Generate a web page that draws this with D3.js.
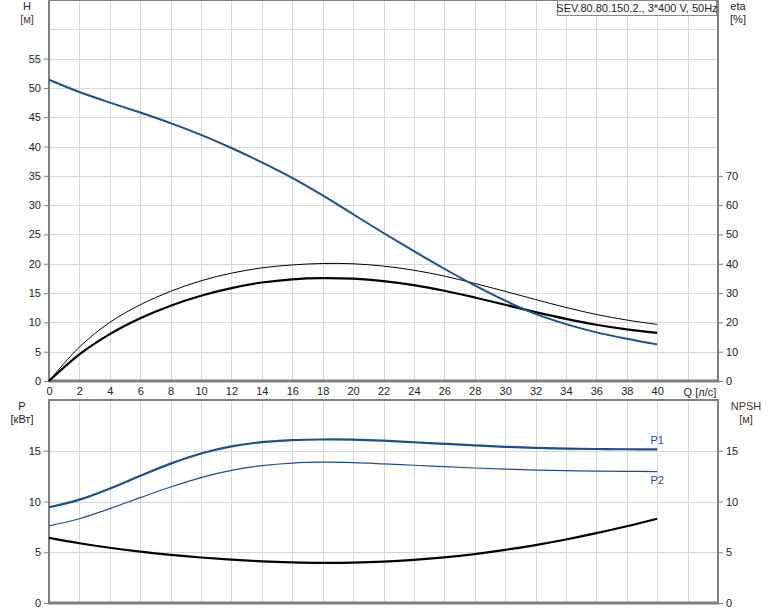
<!DOCTYPE html>
<html><head><meta charset="utf-8">
<script src="https://cdn.jsdelivr.net/npm/d3@7"></script>
<style>body{margin:0;background:#fff}svg{display:block;font-family:"Liberation Sans",Arial,sans-serif}</style>
</head><body><svg id="c" width="774" height="611"></svg>
<script>
const q = [0,2,4,6,8,10,12,14,16,18,20,22,24,26,28,30,32,34,36,38,40];
const head = [51.4,49.3,47.5,45.8,44.0,42.0,39.75,37.3,34.65,31.65,28.45,25.25,22.15,19.15,16.3,13.7,11.45,9.7,8.3,7.2,6.25];
const etaThin = [0,11.6,20.0,26.0,30.6,34.2,36.8,38.6,39.6,40.1,40.0,39.2,37.8,35.8,33.3,30.6,27.8,25.1,22.7,20.8,19.3];
const etaThick = [0,9.1,16.0,21.4,25.7,29.1,31.7,33.6,34.7,35.1,34.9,34.1,32.7,30.8,28.5,26.0,23.5,21.2,19.2,17.6,16.4];
const p1 = [9.43,10.18,11.28,12.53,13.73,14.73,15.43,15.85,16.05,16.11,16.09,15.99,15.84,15.68,15.53,15.39,15.28,15.21,15.17,15.15,15.13];
const p2 = [7.6,8.3,9.3,10.38,11.43,12.36,13.06,13.53,13.79,13.87,13.83,13.71,13.57,13.43,13.30,13.19,13.10,13.04,13.0,12.97,12.95];
const npsh = [6.41,5.89,5.44,5.06,4.74,4.48,4.27,4.11,4.01,3.96,3.98,4.07,4.24,4.49,4.82,5.23,5.71,6.26,6.88,7.56,8.30];
const qTicks = [0,2,4,6,8,10,12,14,16,18,20,22,24,26,28,30,32,34,36,38,40];
const hTicks = [0,5,10,15,20,25,30,35,40,45,50,55];
const etaTicks = [0,10,20,30,40,50,60,70];
const pTicks = [0,5,10,15];
const npshTicks = [0,5,10,15];
const title = "SEV.80.80.150.2., 3*400 V, 50Hz";

const svg = d3.select("#c");
const x = d3.scaleLinear().domain([0,44]).range([49,718]);
const yH = d3.scaleLinear().domain([0,65]).range([381,0]);
const yE = d3.scaleLinear().domain([0,130]).range([381,0]);
const yP = d3.scaleLinear().domain([0,20]).range([603,400]);
const grid = "#d6d6d6", axisC = "#7f7f7f", blue = "#1d4f8c", txt = "#222";

const gridX = d3.range(2,44,2);
function vgrid(y0,y1){
  svg.append("g").selectAll("line").data(gridX).join("line")
    .attr("x1",d=>Math.round(x(d))+0.5).attr("x2",d=>Math.round(x(d))+0.5).attr("y1",y0).attr("y2",y1)
    .attr("stroke",grid).attr("stroke-width",1);
}
vgrid(0,381); vgrid(400,603);
svg.append("g").selectAll("line").data(d3.range(5,66,5)).join("line")
  .attr("x1",49).attr("x2",718).attr("y1",d=>Math.round(yH(d))+0.5).attr("y2",d=>Math.round(yH(d))+0.5)
  .attr("stroke",grid);
svg.append("g").selectAll("line").data([5,10,15]).join("line")
  .attr("x1",49).attr("x2",718).attr("y1",d=>Math.round(yP(d))+0.5).attr("y2",d=>Math.round(yP(d))+0.5)
  .attr("stroke",grid);

function frame(y0,y1){
  svg.append("rect").attr("x",49).attr("y",y0).attr("width",669).attr("height",y1-y0)
    .attr("fill","none").attr("stroke",axisC).attr("stroke-width",1);
  svg.append("line").attr("x1",49).attr("x2",49).attr("y1",y0).attr("y2",y1).attr("stroke",axisC).attr("stroke-width",2);
  svg.append("line").attr("x1",718).attr("x2",718).attr("y1",y0).attr("y2",y1).attr("stroke",axisC).attr("stroke-width",2);
  svg.append("line").attr("x1",48).attr("x2",719).attr("y1",y1).attr("y2",y1).attr("stroke",axisC).attr("stroke-width",3);
}
frame(0.5,381); frame(400,603);
svg.append("line").attr("x1",48).attr("x2",719).attr("y1",400).attr("y2",400).attr("stroke",axisC).attr("stroke-width",2);

function leftAxis(scale,ticks){
  const g = svg.append("g").attr("transform","translate(49,0)")
    .call(d3.axisLeft(scale).tickValues(ticks).tickSize(5).tickPadding(3).tickFormat(d3.format("d")));
  g.select(".domain").remove();
  g.selectAll("line").attr("stroke",axisC);
  g.selectAll("text").attr("font-size",11).attr("fill",txt).attr("font-family","Liberation Sans, Arial");
}
function rightAxis(scale,ticks){
  const g = svg.append("g").attr("transform","translate(718,0)")
    .call(d3.axisRight(scale).tickValues(ticks).tickSize(5).tickPadding(3).tickFormat(d3.format("d")));
  g.select(".domain").remove();
  g.selectAll("line").attr("stroke",axisC);
  g.selectAll("text").attr("font-size",11).attr("fill",txt).attr("font-family","Liberation Sans, Arial");
}
leftAxis(yH,hTicks); rightAxis(yE,etaTicks);
leftAxis(yP,pTicks); rightAxis(yP,npshTicks);
const gx = svg.append("g").attr("transform","translate(0,381)")
  .call(d3.axisBottom(x).tickValues(qTicks).tickSize(0).tickPadding(6).tickFormat(d3.format("d")));
gx.select(".domain").remove();
gx.selectAll("text").attr("font-size",11).attr("fill",txt).attr("font-family","Liberation Sans, Arial");

function lab(t,xx,yy,anchor,col){
  svg.append("text").attr("x",xx).attr("y",yy).attr("text-anchor",anchor||"middle")
    .attr("font-size",11).attr("fill",col||txt).text(t);
}
lab("H",27,10,"middle","#2a2a55"); lab("[м]",27,23,"middle","#553355");
lab("eta",738,10); lab("[%]",738,23);
lab("P",22,410); lab("[кВт]",22,423);
lab("NPSH",746,410,"middle","#4a3030"); lab("[м]",746,423,"middle","#4a3030");
lab("Q [л/с]",x(42)-4,396,"start");

const tw = 159;
svg.append("rect").attr("x",557.5).attr("y",0.5).attr("width",tw).attr("height",15)
  .attr("fill","#fff").attr("stroke","#888");
lab(title,557.5+tw/2,12);

const line = (ys,scale)=>d3.line().x((d,i)=>x(q[i])).y(d=>scale(d)).curve(d3.curveCatmullRom.alpha(0.5))(ys);
function path(ys,scale,col,w){
  svg.append("path").attr("d",line(ys,scale)).attr("fill","none").attr("stroke",col).attr("stroke-width",w);
}
path(etaThin,yE,"#000",1);
path(etaThick,yE,"#000",2.2);
path(head,yH,blue,2);
path(p2,yP,blue,1.2);
path(p1,yP,blue,2.2);
path(npsh,yP,"#000",2.2);
lab("P1",x(40),yP(p1[p1.length-1])-5,"middle",blue);
lab("P2",x(40),yP(p2[p2.length-1])+12,"middle",blue);
</script></body></html>
